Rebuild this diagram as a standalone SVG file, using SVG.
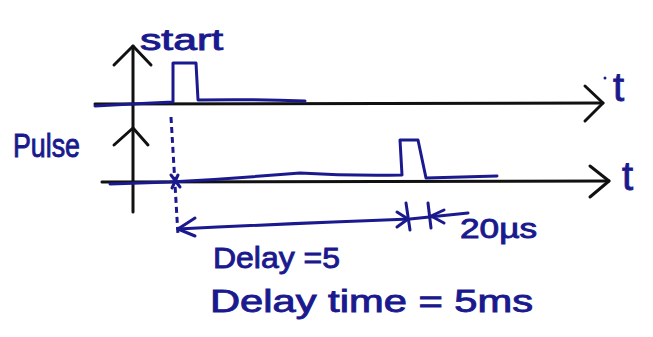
<svg xmlns="http://www.w3.org/2000/svg" width="653" height="337" viewBox="0 0 653 337">
  <style>
    .ax { fill: none; stroke: #111; stroke-width: 3; stroke-linecap: round; stroke-linejoin: round; }
    .sig { fill: none; stroke: #1a1a8e; stroke-width: 3; stroke-linecap: round; stroke-linejoin: round; }
    .dash { fill: none; stroke: #1a1a8e; stroke-width: 3; stroke-dasharray: 6 4; }
    .lbl { fill: #1a1a8e; stroke: #1a1a8e; stroke-width: 0.9; font-family: "Liberation Sans", "DejaVu Sans", sans-serif; }
  </style>
  <rect width="653" height="337" fill="#ffffff"/>
  <g id="axes">
    <path class="ax" d="M133,212 L133,46"/>
    <path class="ax" d="M114,65 L133,46 L151,65"/>
    <path class="ax" d="M114,145 L133,128 L148,145"/>
    <path class="ax" d="M95,104 L603,103"/>
    <path class="ax" d="M585,86 L603,103 L585,121"/>
    <path class="ax" d="M102,182 L609,181"/>
    <path class="ax" d="M590,166 L609,181 L590,197"/>
  </g>
  <g id="start-signal">
    <path class="sig" d="M95,106 Q130,104 173,102 L173,63 L196,63 L198,100 Q250,99 305,101"/>
  </g>
  <g id="pulse-signal">
    <path class="sig" d="M110,184 L170,182 Q240,178 300,173 Q350,176 402,175 L400,140 L418,140 L426,178 Q460,177 497,176"/>
  </g>
  <g id="connectors">
    <path class="dash" d="M171,117 L178,235"/>
    <path class="sig" d="M171,175 L180,187 M178,175 L172,188"/>
    <path class="sig" d="M178,229 Q300,223 410,219 Q440,216 468,213"/>
    <path class="sig" d="M195,218 L178,229 L195,236"/>
    <path class="sig" d="M397,212 L408,219 L397,227"/>
    <path class="sig" d="M406,203 L410,230"/>
    <path class="sig" d="M428,203 L431,228"/>
    <path class="sig" d="M444,210 L431,216 L444,223"/>
  </g>
  <g id="labels">
    <text class="lbl" x="140" y="50" font-size="29" textLength="83" lengthAdjust="spacingAndGlyphs">start</text>
    <text class="lbl" x="13" y="157" font-size="33" textLength="67" lengthAdjust="spacingAndGlyphs">Pulse</text>
    <circle cx="605" cy="78" r="1.5" fill="#1a1a8e"/>
    <text class="lbl" x="613" y="101" font-size="40">t</text>
    <text class="lbl" x="622" y="190" font-size="40">t</text>
    <text class="lbl" x="460" y="238" font-size="27" textLength="77" lengthAdjust="spacingAndGlyphs">20µs</text>
    <text class="lbl" x="213" y="268" font-size="29" textLength="127" lengthAdjust="spacingAndGlyphs">Delay =5</text>
    <text class="lbl" x="210" y="312" font-size="31" textLength="323" lengthAdjust="spacingAndGlyphs">Delay time = 5ms</text>
  </g>
</svg>
